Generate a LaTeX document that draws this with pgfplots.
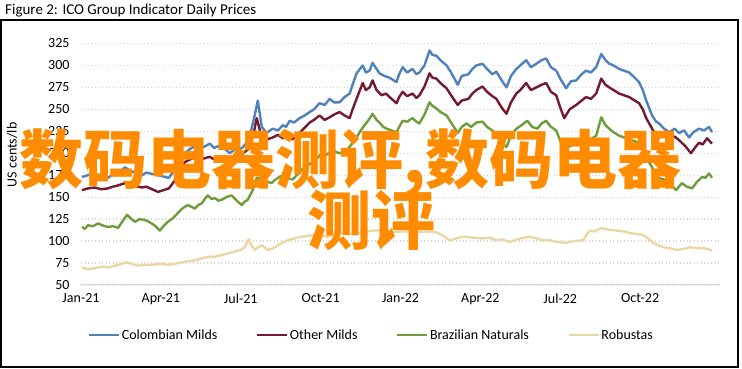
\documentclass[border=0pt]{standalone}
\usepackage{pgfplots}
\pgfplotsset{compat=1.18}
\usepackage{fontspec}
\setmainfont{Carlito}
\newfontfamily\cjk{Noto Sans CJK SC}
\definecolor{cmild}{HTML}{4F81BD}
\definecolor{omild}{HTML}{751930}
\definecolor{bnat}{HTML}{6E9D3B}
\definecolor{robu}{HTML}{EDD6A3}
\definecolor{gridc}{HTML}{D4D4D4}
\definecolor{wm}{HTML}{FF8C00}
\begin{document}
\begin{tikzpicture}
\path[use as bounding box] (0,0) rectangle (742pt,369pt);
\draw[black, line width=1.5pt] (1pt,2pt) rectangle (738pt,349pt);
\node[anchor=base west, inner sep=0pt, font=\fontsize{15}{18}\selectfont] at (5pt,354pt) {Figure 2: ICO Group Indicator Daily Prices};
\node[rotate=90, inner sep=0pt, font=\fontsize{14}{16}\selectfont] at (12pt,214pt) {US cents/lb};
\begin{axis}[
  at={(81pt,84pt)}, anchor=south west, scale only axis,
  width=639pt, height=241.5pt,
  xmin=0, xmax=24, ymin=50, ymax=325,
  ytick={50,75,...,325},
  xtick={0,3,...,21},
  xticklabels={Jan-21,Apr-21,Jul-21,Oct-21,Jan-22,Apr-22,Jul-22,Oct-22},
  axis x line*=bottom, axis y line*=left,
  x axis line style={-, color=gridc, line width=1pt},
  y axis line style={draw=none},
  tick style={draw=none},
  ymajorgrids,
  grid style={color=gridc, line width=1.3pt, dash pattern=on 1.3pt off 2.2pt},
  ticklabel style={font=\fontsize{14}{16}\selectfont},
  /pgf/number format/assume math mode=true,
  yticklabel style={xshift=-8pt},
  xticklabel style={yshift=-5pt},
  legend columns=4,
  legend image code/.code={\draw[#1, line width=2.5pt] (0pt,0pt) -- (30pt,0pt);},
  legend style={draw=none, fill=none, at={(axis description cs:0.454,-0.207)}, anchor=center,
    font=\fontsize{14}{16}\selectfont,
    /tikz/every even column/.append style={column sep=37pt},
    nodes={inner sep=1.5pt}},
  clip=false,
]
\addplot[cmild, line width=2.4pt, line join=round] coordinates {
(0.04,173)(0.26,175)(0.52,177)(0.75,173)(1.01,172)(1.2,176)(1.35,178)(1.5,180)(1.65,184)(1.85,180)(2.03,178)(2.29,175)(2.45,178)(2.6,177)(2.89,175)
(3.3,172)(3.6,185)(3.9,200)(4.1,205)(4.28,208)(4.46,210)(4.6,207)(4.84,211)(5.0,206)(5.14,208)(5.40,205)(5.59,200)(5.75,204)(5.9,203)(6.08,207)
(6.30,215)(6.50,240)(6.64,260)(6.79,230)(6.97,223)(7.1,226)(7.20,228)(7.4,226)(7.58,232)(7.7,230)(7.84,237)(8.0,235)(8.21,240)(8.4,243)(8.59,247)(8.75,250)(8.96,257)
(9.15,255)(9.34,262)(9.5,258)(9.71,258)(9.9,264)(10.09,268)(10.2,278)(10.35,291)(10.58,300)(10.7,292)(10.84,294)(10.95,303)(11.1,296)(11.21,291)(11.4,288)(11.59,286)(11.85,281)
(11.95,290)(12.08,298)(12.25,292)(12.45,296)(12.6,290)(12.71,292)(12.9,300)(13.09,317)(13.2,312)(13.35,311)(13.5,306)(13.73,300)(13.9,292)(14.15,278)(14.3,288)(14.55,290)(14.7,296)(14.85,300)(15.08,302)
(15.25,296)(15.45,290)(15.6,293)(15.8,283)(15.98,275)(16.15,288)(16.35,296)(16.5,300)(16.72,306)(16.9,298)(17.10,302)(17.3,306)(17.47,308)(17.65,298)(17.85,294)(18.0,285)(18.22,274)(18.4,282)(18.60,283)(18.8,290)(18.97,294)
(19.15,292)(19.35,298)(19.54,313)(19.7,306)(19.84,302)(20.0,300)(20.21,296)(20.4,294)(20.59,292)(20.8,286)(20.96,281)(21.1,272)(21.23,260)(21.45,243)(21.6,236)(21.71,234)(21.9,228)(22.09,224)
(22.3,228)(22.46,223)(22.65,226)(22.84,218)(23.0,224)(23.21,228)(23.4,226)(23.59,230)(23.70,224)
};
\addlegendentry{Colombian Milds}
\addplot[omild, line width=2.4pt, line join=round] coordinates {
(0.04,158)(0.26,160)(0.52,161)(0.75,159)(1.01,160)(1.2,162)(1.35,163)(1.65,166)(1.85,163)(2.0,163)(2.29,161)(2.45,162)(2.6,160)(2.89,156)
(3.3,160)(3.6,172)(3.9,190)(4.1,193)(4.28,195)(4.5,193)(4.84,196)(5.0,193)(5.14,196)(5.4,190)(5.59,194)(5.75,191)(5.9,192)(6.08,200)(6.30,205)
(6.50,225)(6.60,240)(6.79,218)(7.0,216)(7.20,218)(7.4,221)(7.58,217)(7.73,220)(7.9,216)(8.10,218)(8.3,226)(8.59,235)(8.75,238)(8.96,243)(9.15,238)(9.34,241)(9.5,244)(9.71,247)(9.9,243)(10.09,240)
(10.2,250)(10.35,262)(10.58,280)(10.7,272)(10.84,275)(10.95,283)(11.1,272)(11.29,266)(11.45,268)(11.59,264)(11.85,257)(11.95,264)(12.08,270)(12.25,265)(12.45,268)(12.6,263)(12.71,266)
(12.9,276)(13.09,291)(13.2,286)(13.35,285)(13.5,280)(13.73,274)(13.9,266)(14.15,255)(14.3,260)(14.55,262)(14.7,268)(14.85,272)(15.08,276)(15.25,270)(15.45,265)(15.6,262)(15.8,252)(15.98,245)(16.15,258)(16.35,268)
(16.5,272)(16.72,280)(16.9,272)(17.10,275)(17.3,278)(17.47,280)(17.65,270)(17.85,266)(18.0,252)(18.15,240)(18.35,250)(18.60,255)(18.8,260)(18.97,264)(19.15,262)(19.35,268)(19.54,285)(19.7,278)(19.84,275)
(20.0,272)(20.21,268)(20.4,266)(20.59,264)(20.8,260)(20.96,257)(21.1,250)(21.23,240)(21.45,228)(21.64,217)(21.85,220)(22.09,217)(22.3,219)(22.46,215)(22.7,208)(22.91,200)(23.05,206)(23.21,212)
(23.35,210)(23.51,217)(23.70,211)
};
\addlegendentry{Other Milds}
\addplot[bnat, line width=2.4pt, line join=round] coordinates {
(0.04,116)(0.15,114)(0.26,118)(0.45,117)(0.64,120)(0.8,118)(1.01,116)(1.2,117)(1.39,115)(1.55,122)(1.73,130)(1.9,125)(2.03,122)(2.2,125)(2.40,124)(2.55,122)(2.66,120)(2.8,117)(2.96,112)(3.1,117)(3.26,122)
(3.45,126)(3.64,132)(3.8,137)(4.01,141)(4.15,139)(4.28,137)(4.4,141)(4.54,143)(4.65,148)(4.76,152)(4.9,148)(5.03,149)(5.15,146)(5.29,147)(5.45,150)(5.66,152)(5.85,146)(6.04,141)(6.15,145)(6.26,147)(6.45,158)
(6.60,172)(6.79,170)(6.97,168)(7.15,166)(7.3,170)(7.5,174)(7.76,172)(7.95,170)(8.1,175)(8.25,180)(8.40,184)(8.6,188)(8.8,192)(9.04,200)(9.2,198)(9.45,203)(9.7,200)(9.98,203)
(10.15,210)(10.35,218)(10.55,228)(10.73,235)(10.85,240)(10.95,245)(11.1,238)(11.21,235)(11.35,230)(11.48,228)(11.65,226)(11.85,224)(11.95,230)(12.08,237)(12.25,236)(12.45,240)(12.6,236)(12.71,234)(12.9,244)(13.09,258)
(13.2,254)(13.35,251)(13.5,247)(13.73,243)(13.9,235)(14.15,223)(14.3,230)(14.48,234)(14.65,230)(14.85,235)(15.08,236)(15.25,230)(15.45,226)(15.6,222)(15.8,212)(15.98,207)(16.15,220)(16.35,228)(16.55,232)(16.76,237)
(16.95,230)(17.14,228)(17.3,234)(17.47,237)(17.65,230)(17.85,226)(18.0,214)(18.15,203)(18.35,208)(18.60,211)(18.8,214)(18.97,215)(19.15,216)(19.35,220)(19.54,241)(19.7,232)(19.84,228)(20.0,224)(20.21,220)
(20.4,218)(20.59,215)(20.8,214)(20.96,211)(21.1,203)(21.23,195)(21.45,184)(21.6,176)(21.71,172)(21.9,170)(22.09,169)(22.2,163)(22.35,158)(22.57,166)(22.75,162)(22.95,160)(23.15,168)(23.33,173)
(23.45,172)(23.59,177)(23.70,172)
};
\addlegendentry{Brazilian Naturals}
\addplot[robu, line width=2.4pt, line join=round] coordinates {
(0.04,70)(0.25,68)(0.52,69)(0.8,71)(1.01,70)(1.4,73)(1.73,76)(1.9,74)(2.14,72)(2.4,73)(2.66,73)(3.0,74)(3.26,73)(3.5,74)(3.79,76)(4.0,77)(4.28,78)(4.5,80)(4.76,82)(5.0,82)(5.29,84)(5.5,86)(5.78,88)
(6.0,90)(6.15,93)(6.30,102)(6.4,95)(6.53,90)(6.65,93)(6.79,95)(7.01,90)(7.15,91)(7.28,93)(7.5,97)(7.76,101)(8.0,103)(8.29,105)(8.5,106)(8.78,107)(9.0,106)(9.26,105)(9.5,108)(9.79,109)
(10.1,108)(10.39,109)(10.7,111)(11.03,112)(11.33,112)(11.66,110)(12.1,111)(12.60,110)(13.0,111)(13.35,110)(13.6,106)(13.84,101)(14.1,103)(14.33,105)(14.7,104)(15.08,103)(15.35,104)(15.60,101)(15.85,102)
(16.09,99)(16.5,103)(16.84,105)(17.1,103)(17.33,101)(17.6,101)(17.85,99)(18.22,98)(18.5,100)(18.86,101)(19.0,108)(19.12,112)(19.3,111)(19.54,115)(19.8,113)(20.10,112)(20.4,111)(20.62,109)(20.9,108)
(21.11,107)(21.3,103)(21.49,98)(21.7,95)(21.86,93)(22.1,92)(22.39,90)(22.6,91)(22.87,93)(23.1,92)(23.36,92)(23.55,91)(23.70,89)
};
\addlegendentry{Robustas}
\end{axis}
\node[anchor=base west, inner sep=0pt, text=wm, font=\cjk\bfseries\fontsize{64}{64}\selectfont] at (19pt,185pt) {数码电器测评,数码电器};
\node[anchor=base, inner sep=0pt, text=wm, font=\cjk\bfseries\fontsize{64}{64}\selectfont] at (371pt,124pt) {测评};
\end{tikzpicture}
\end{document}
